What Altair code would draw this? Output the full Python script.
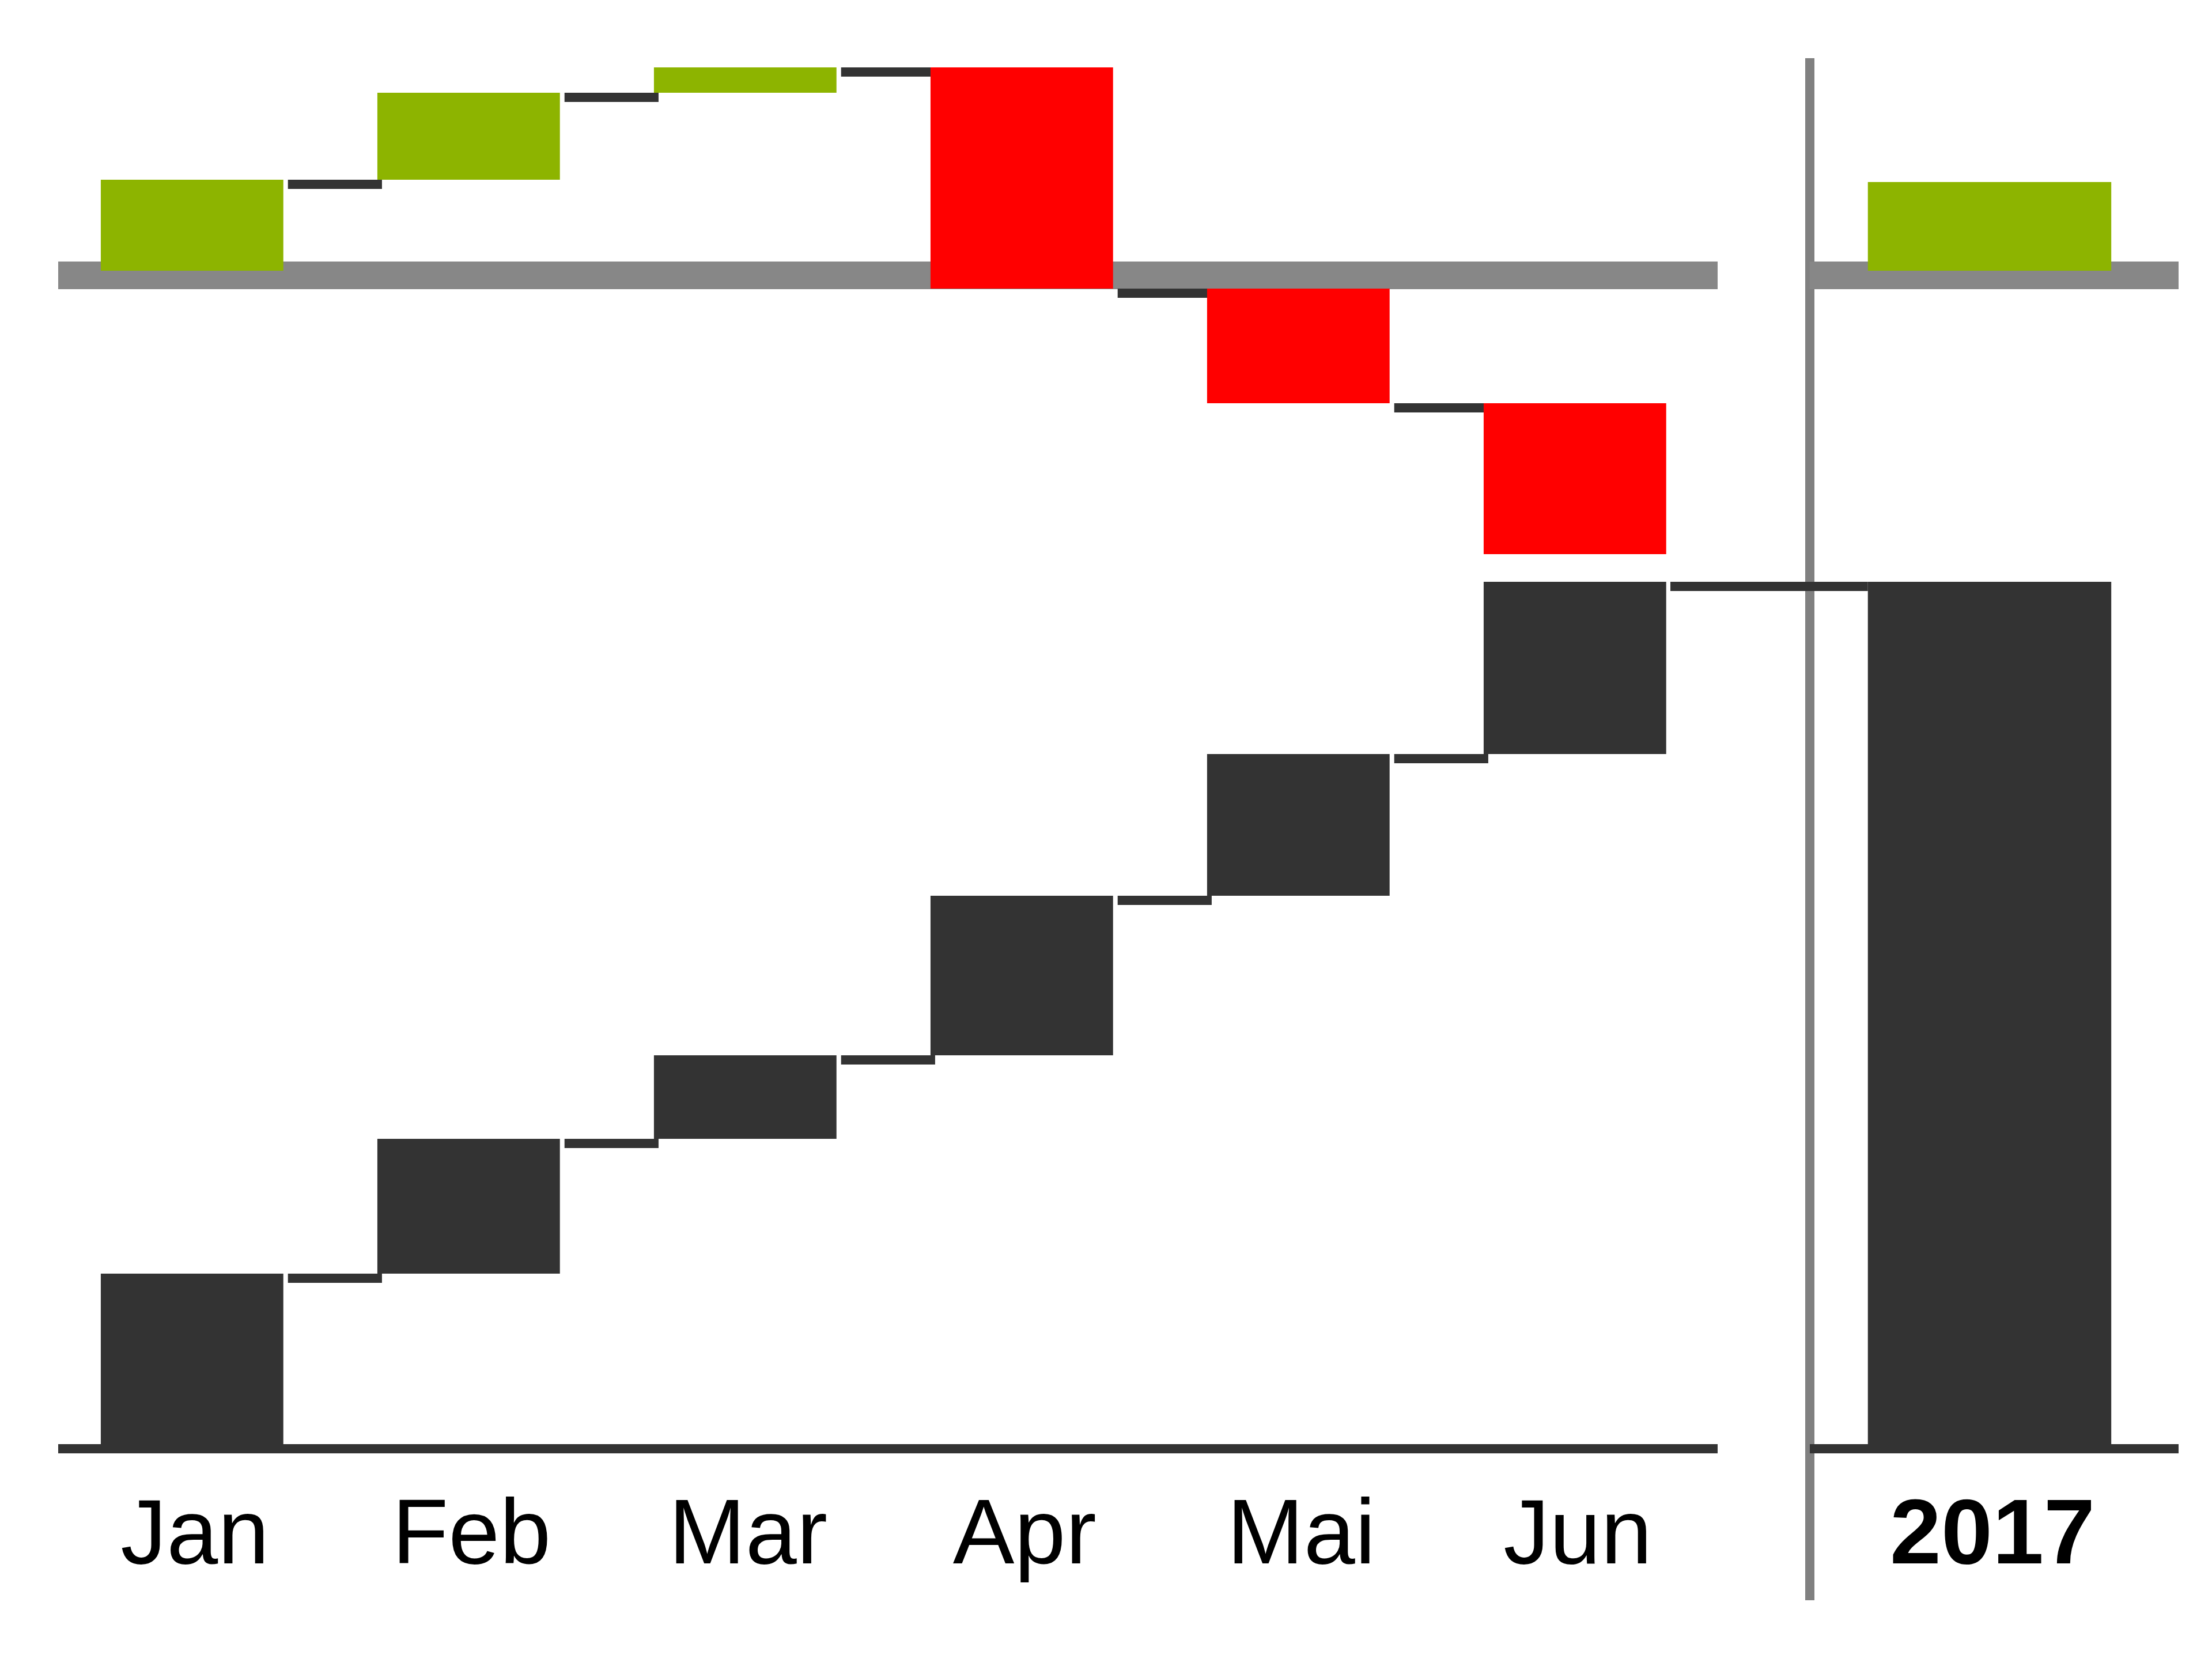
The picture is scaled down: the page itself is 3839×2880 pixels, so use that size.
import altair as alt
import pandas as pd

# ---------------- data ----------------
months = ["Jan", "Feb", "Mar", "Apr", "Mai", "Jun"]
actual = [59.2, 46.8, 29.0, 55.4, 49.2, 59.8]        # monthly contributions (bottom waterfall)
delta = [31.6, 30.2, 8.8, -76.8, -39.8, -52.4]       # monthly variances (top waterfall)
total_label = "2017"
total_delta = 30.8

# ---------------- styles / layout ----------------
DARK = "#333333"
GREEN = "#8DB400"
RED = "#FF0000"
BAND = "#878787"
SEP = "#808080"
FONT = "Liberation Sans"

LEFT_W, RIGHT_W, H, GAP = 2880, 640, 2406, 160
TOP_DOMAIN = [-407.4, 73.8]
BOTTOM_DOMAIN = [0, 481.2]

# ---------------- tables ----------------
rows = []
ca = cd = 0.0
for m, a, d in zip(months, actual, delta):
    rows.append({"cat": m, "a0": ca, "a1": ca + a, "d0": cd, "d1": cd + d, "delta": d})
    ca += a
    cd += d
bars = pd.DataFrame(rows)
conns = pd.DataFrame({
    "frm": months[:-1],
    "to": months[1:],
    "a": bars["a1"].values[:-1],
    "d": bars["d1"].values[:-1],
})
total = pd.DataFrame([{"cat": total_label, "a0": 0.0, "a1": sum(actual),
                       "d0": 0.0, "d1": total_delta, "delta": total_delta}])
zero = pd.DataFrame({"z": [0.0]})

top_scale = alt.Scale(domain=TOP_DOMAIN, nice=False, zero=False)
bot_scale = alt.Scale(domain=BOTTOM_DOMAIN, nice=False, zero=False)
xl_scale = alt.Scale(domain=months, paddingInner=0.34, paddingOuter=0.17, align=0.453)
xr_scale = alt.Scale(domain=[total_label], paddingInner=0.34, paddingOuter=0.17, align=0.463)


def x_axis(bold):
    return alt.Axis(title=None, domain=False, ticks=False, tickSize=0, grid=False,
                    labelAngle=0, labelPadding=80, labelOffset=5, labelFontSize=160,
                    labelFont=FONT, labelColor="#000000", labelLimit=0,
                    labelFontWeight="bold" if bold else "normal")


color_enc = alt.when(alt.datum.delta > 0).then(alt.value(GREEN)).otherwise(alt.value(RED))


def grey_band():
    # thick grey zero line of the variance chart (full panel width)
    return alt.Chart(zero).mark_rect(color=BAND, yOffset=-16, y2Offset=32).encode(
        y=alt.Y("z:Q", scale=top_scale, axis=None), y2="z:Q")


def base_line():
    # dark zero line of the cumulative chart (full panel width)
    return alt.Chart(zero).mark_rect(color=DARK, yOffset=0, y2Offset=16).encode(
        y=alt.Y("z:Q", scale=bot_scale, axis=None), y2="z:Q")


# ---------------- left panel (months) ----------------
top_conn_l = alt.Chart(conns).mark_rule(color=DARK, strokeWidth=16, yOffset=8, xOffset=8, x2Offset=8).encode(
    x=alt.X("frm:N", scale=xl_scale, axis=x_axis(False), bandPosition=1),
    x2=alt.X2("to:N", bandPosition=0),
    y=alt.Y("d:Q", scale=top_scale, axis=None))
top_bars_l = alt.Chart(bars).mark_bar().encode(
    x=alt.X("cat:N", scale=xl_scale, axis=x_axis(False)),
    y=alt.Y("d0:Q", scale=top_scale, axis=None),
    y2="d1:Q",
    color=color_enc)

bot_conn_l = alt.Chart(conns).mark_rule(color=DARK, strokeWidth=16, yOffset=8, xOffset=8, x2Offset=8).encode(
    x=alt.X("frm:N", scale=xl_scale, axis=x_axis(False), bandPosition=1),
    x2=alt.X2("to:N", bandPosition=0),
    y=alt.Y("a:Q", scale=bot_scale, axis=None))
bot_bars_l = alt.Chart(bars).mark_bar(color=DARK).encode(
    x=alt.X("cat:N", scale=xl_scale, axis=x_axis(False)),
    y=alt.Y("a0:Q", scale=bot_scale, axis=None),
    y2="a1:Q")

left = alt.layer(
    alt.layer(grey_band(), top_conn_l, top_bars_l),
    alt.layer(base_line(), bot_conn_l, bot_bars_l),
).resolve_scale(y="independent").properties(width=LEFT_W, height=H)

# ---------------- right panel (year total) ----------------
sep = alt.Chart(zero).mark_rect(color=SEP).encode(
    x=alt.value(-8), x2=alt.value(8), y=alt.value(0), y2=alt.value(2677))
top_bar_r = alt.Chart(total).mark_bar().encode(
    x=alt.X("cat:N", scale=xr_scale, axis=x_axis(True)),
    y=alt.Y("d0:Q", scale=top_scale, axis=None),
    y2="d1:Q",
    color=color_enc)
bot_bar_r = alt.Chart(total).mark_bar(color=DARK).encode(
    x=alt.X("cat:N", scale=xr_scale, axis=x_axis(True)),
    y=alt.Y("a0:Q", scale=bot_scale, axis=None),
    y2="a1:Q")
conn_r = alt.Chart(total).mark_rule(color=DARK, strokeWidth=16, yOffset=8).encode(
    x=alt.X("cat:N", scale=xr_scale, axis=x_axis(True), bandPosition=0),
    x2=alt.value(-242),
    y=alt.Y("a1:Q", scale=bot_scale, axis=None))

right = alt.layer(
    sep,
    alt.layer(grey_band(), top_bar_r),
    alt.layer(base_line(), bot_bar_r, conn_r),
).resolve_scale(y="independent").properties(width=RIGHT_W, height=H)

chart = alt.hconcat(left, right, spacing=GAP, bounds="flush").properties(
    padding={"left": 93, "top": 93, "right": 20, "bottom": 20},
    background="white",
).configure_view(stroke=None)

chart.save("out.html", embed_options={"renderer": "svg", "actions": False})
